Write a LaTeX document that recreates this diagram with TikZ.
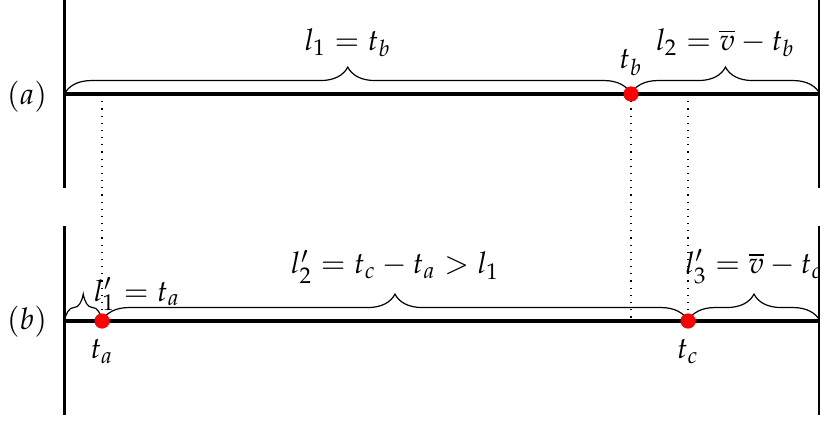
\documentclass[tikz,border=0pt]{standalone}
\usepackage{mathpazo}
\usetikzlibrary{decorations.pathreplacing,positioning}
\tikzset{
  bar/.style={line width=1.1pt},
  axisline/.style={line width=1.1pt},
  guide/.style={dotted},
  event/.style={circle, fill=red, inner sep=0pt, minimum size=5pt},
  span/.style={decorate, decoration={brace, amplitude=9pt}},
  spanlabel/.style={midway, above, yshift=9pt}
}
\begin{document}
\begin{tikzpicture}[x=1.176mm, y=1.176mm]
  \useasboundingbox (-6.45,9.4) rectangle (75.55,-32.8);
  % line (a)
  \coordinate (a0) at (0,0);
  \coordinate (a1) at (75.55,0);
  \coordinate (pa) at (3.75,0);
  \coordinate (pc) at (62.35,0);
  \coordinate (aTL) at (0,9.4);
  \coordinate (aBL) at (0,-9.4);
  \coordinate (aTR) at (75.55,9.4);
  \coordinate (aBR) at (75.55,-9.4);
  % line (b)
  \coordinate (b0) at (0,-22.7);
  \coordinate (b1) at (75.55,-22.7);
  \coordinate (pb) at (56.65,-22.7);
  \coordinate (bTL) at (0,-13.2);
  \coordinate (bBL) at (0,-32.1);
  \coordinate (bTR) at (75.55,-13.2);
  \coordinate (bBR) at (75.55,-32.1);

  \node (la) at (-3.75,-0.3) {$(a)$};
  \node (lb) at (-3.75,-22.8) {$(b)$};

  \node[event] (tb) at (56.65,0) {};
  \node[event] (ta) at (3.75,-22.7) {};
  \node[event] (tc) at (62.35,-22.7) {};

  % projections
  \draw[guide] (pa) -- (ta.center);
  \draw[guide] (tb.center) -- (pb);
  \draw[guide] (pc) -- (tc.center);

  \draw[bar] (aTL) -- (aBL);
  \draw[bar] (aTR) -- (aBR);
  \draw[bar] (bTL) -- (bBL);
  \draw[bar] (bTR) -- (bBR);
  \draw[axisline] (a0) -- (a1);
  \draw[axisline] (b0) -- (b1);

  % braces
  \draw[span] (a0) -- (tb.center) node[spanlabel] {$l_1 = t_b$};
  \draw[span] (tb.center) -- (a1) node[spanlabel] {$l_2 = \overline{v} - t_b$};
  \draw[span] (b0) -- (ta.center) node[midway, yshift=9pt, anchor=west] {$l'_1 = t_a$};
  \draw[span] (ta.center) -- (tc.center) node[spanlabel] {$l'_2 = t_c - t_a > l_1$};
  \draw[span] (tc.center) -- (b1) node[spanlabel] {$l'_3 = \overline{v} - t_c$};

  \node[event, label=above:$t_b$] at (tb) {};
  \node[event, label=below:$t_a$] at (ta) {};
  \node[event, label=below:$t_c$] at (tc) {};
\end{tikzpicture}
\end{document}
